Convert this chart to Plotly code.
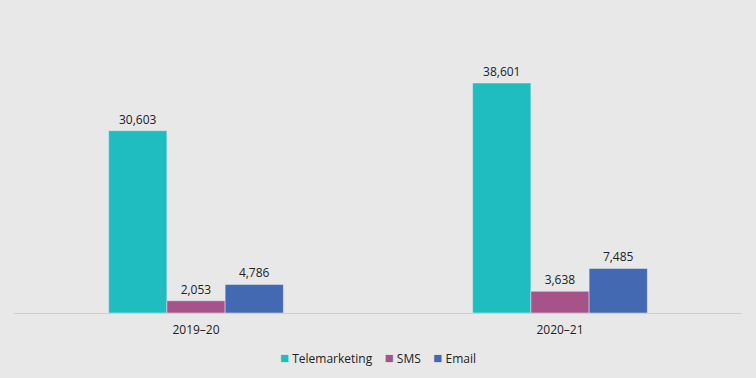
import plotly.graph_objects as go

categories = ["2019–20", "2020–21"]
telemarketing = [30603, 38601]
sms = [2053, 3638]
email = [4786, 7485]

series = [
    ("Telemarketing", telemarketing, "#1FBDBF"),
    ("SMS", sms, "#A65389"),
    ("Email", email, "#4369B3"),
]

fig = go.Figure()
for name, vals, col in series:
    fig.add_trace(go.Bar(
        x=categories, y=vals, name=name, marker_color=col,
        text=[f"{v:,}" for v in vals], textposition="outside",
        textfont=dict(size=12, color="#222222"), cliponaxis=False,
        showlegend=False,
    ))

legend_html = "&nbsp;&nbsp;&nbsp;&nbsp;".join(
    f"<span style='color:{col};font-size:15px'>■</span>&nbsp;{name}" for name, _, col in series
)
fig.add_annotation(
    text=legend_html, xref="paper", yref="paper", x=0.5, y=-0.155,
    xanchor="center", yanchor="middle", showarrow=False,
    font=dict(size=12, color="#222222"),
)

fig.update_layout(
    width=756, height=378,
    paper_bgcolor="#E8E8E8", plot_bgcolor="#E8E8E8",
    margin=dict(l=14, r=14, t=30, b=65),
    barmode="group", bargap=0.52, bargroupgap=0,
    font=dict(family="Open Sans, Liberation Sans, sans-serif", size=12, color="#222222"),
    showlegend=False,
)
fig.update_yaxes(range=[0, 47500], visible=False, showgrid=False)
fig.update_xaxes(showline=True, linecolor="#CFCFCF", linewidth=1,
                 ticks="outside", ticklen=6, tickcolor="rgba(0,0,0,0)",
                 tickfont=dict(size=12))

fig.write_html("out.html", config={"displayModeBar": False},
               post_script="document.body.style.margin='0';document.body.style.background='#E8E8E8';")
